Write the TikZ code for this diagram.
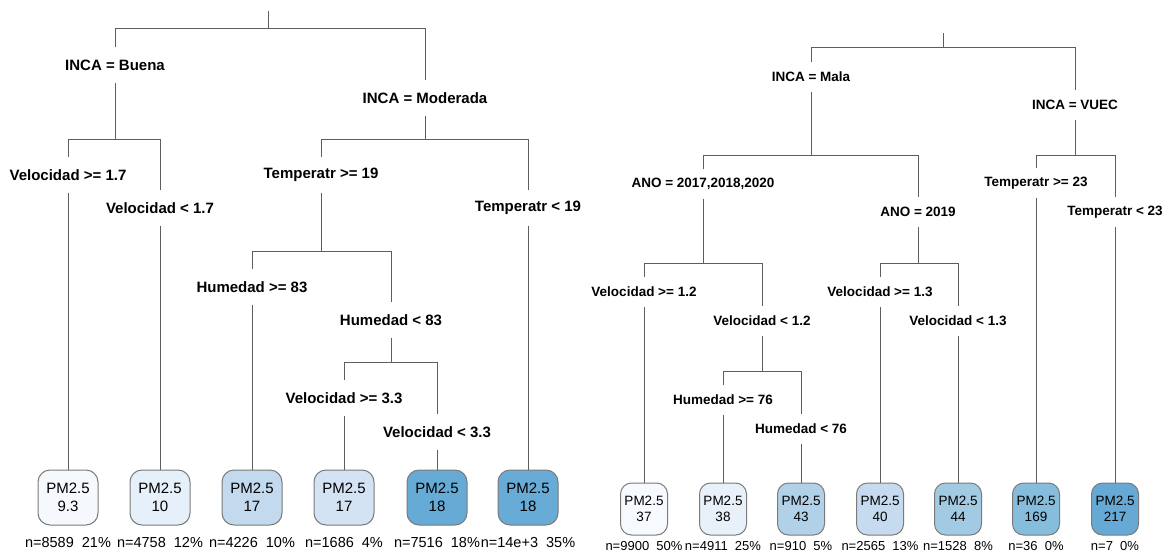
\documentclass[tikz,border=0pt]{standalone}
\usepackage{fontspec}
\setmainfont{Liberation Sans}
\definecolor{lc}{HTML}{5E5E5E}
\definecolor{bc}{HTML}{7A7A7A}
\definecolor{f1}{HTML}{F5F9FE}
\definecolor{f2}{HTML}{E6F0FA}
\definecolor{f3}{HTML}{C3D9EE}
\definecolor{f4}{HTML}{D3E3F3}
\definecolor{f5}{HTML}{66AAD6}
\definecolor{f6}{HTML}{68ABD6}
\definecolor{g1}{HTML}{F6FAFE}
\definecolor{g2}{HTML}{E8F1FA}
\definecolor{g3}{HTML}{B0D1E7}
\definecolor{g4}{HTML}{C6DBEF}
\definecolor{g5}{HTML}{A2CBE3}
\definecolor{g6}{HTML}{86BCDC}
\definecolor{g7}{HTML}{66A9D5}
\tikzset{
  edge/.style={draw=lc, line width=0.9pt},
  lsplit/.style={font=\bfseries\fontsize{15}{15}\selectfont, inner sep=0pt, minimum height=35pt},
  rsplit/.style={font=\bfseries\fontsize{13.5}{13.5}\selectfont, inner sep=0pt, minimum height=29pt},
  lleaf/.style={draw=bc, line width=1pt, rounded corners=12pt, minimum width=60pt, minimum height=55pt, align=center, inner sep=0pt, font=\fontsize{15}{17.5}\selectfont},
  rleaf/.style={draw=bc, line width=1pt, rounded corners=11pt, minimum width=47pt, minimum height=52pt, align=center, inner sep=0pt, font=\fontsize{13.5}{16}\selectfont},
  lcount/.style={inner sep=0pt, font=\fontsize{14.5}{14.5}\selectfont},
  rcount/.style={inner sep=0pt, font=\fontsize{13}{13}\selectfont}
}
\begin{document}
\begin{tikzpicture}[x=1pt,y=-1pt]
\useasboundingbox[fill=white] (0,0) rectangle (1173,552);
% ---------------- left tree ----------------
\coordinate (Lroot) at (268,11);
\coordinate (LJ0) at (268,28);
\coordinate (LJ1) at (115,139);
\coordinate (LJ1b) at (425,139);
\coordinate (LJ2) at (321,251);
\coordinate (LJ3) at (391,362);
\node[lsplit] (LB) at (115,65) {INCA = Buena};
\node[lsplit] (LM) at (425,98) {INCA = Moderada};
\node[lsplit] (Lv1) at (68,175) {Velocidad >= 1.7};
\node[lsplit] (Lv2) at (160,208) {Velocidad < 1.7};
\node[lsplit] (Lt1) at (321,175) {Temperatr >= 19};
\node[lsplit] (Lt2) at (528,208) {Temperatr < 19};
\node[lsplit] (Lh1) at (252,287) {Humedad >= 83};
\node[lsplit] (Lh2) at (391,320) {Humedad < 83};
\node[lsplit] (Lw1) at (344,398) {Velocidad >= 3.3};
\node[lsplit] (Lw2) at (437,432) {Velocidad < 3.3};
\node[lleaf, fill=f1] (L1) at (68,497.5) {PM2.5\\9.3};
\node[lleaf, fill=f2] (L2) at (160,497.5) {PM2.5\\10};
\node[lleaf, fill=f3] (L3) at (252,497.5) {PM2.5\\17};
\node[lleaf, fill=f4] (L4) at (344,497.5) {PM2.5\\17};
\node[lleaf, fill=f5] (L5) at (437,497.5) {PM2.5\\18};
\node[lleaf, fill=f6] (L6) at (528,497.5) {PM2.5\\18};
\node[lcount] (Ln1) at (68,543) {n=8589\ \ 21\%};
\node[lcount] (Ln2) at (160,543) {n=4758\ \ 12\%};
\node[lcount] (Ln3) at (252,543) {n=4226\ \ 10\%};
\node[lcount] (Ln4) at (344,543) {n=1686\ \ 4\%};
\node[lcount] (Ln5) at (437,543) {n=7516\ \ 18\%};
\node[lcount] (Ln6) at (528,543) {n=14e+3\ \ 35\%};
\draw[edge] (Lroot) -- (LJ0);
\draw[edge] (LB.north) -- (LB.north |- LJ0) -- (LM.north |- LJ0) -- (LM.north);
\draw[edge] (LB.south) -- (LJ1);
\draw[edge] (LM.south) -- (LJ1b);
\draw[edge] (Lv1.north) -- (Lv1.north |- LJ1) -- (Lv2.north |- LJ1) -- (Lv2.north);
\draw[edge] (Lt1.north) -- (Lt1.north |- LJ1b) -- (Lt2.north |- LJ1b) -- (Lt2.north);
\draw[edge] (Lv1.south) -- (L1.north);
\draw[edge] (Lv2.south) -- (L2.north);
\draw[edge] (Lt2.south) -- (L6.north);
\draw[edge] (Lt1.south) -- (LJ2);
\draw[edge] (Lh1.north) -- (Lh1.north |- LJ2) -- (Lh2.north |- LJ2) -- (Lh2.north);
\draw[edge] (Lh1.south) -- (L3.north);
\draw[edge] (Lh2.south) -- (LJ3);
\draw[edge] (Lw1.north) -- (Lw1.north |- LJ3) -- (Lw2.north |- LJ3) -- (Lw2.north);
\draw[edge] (Lw1.south) -- (L4.north);
\draw[edge] (Lw2.south) -- (L5.north);
% ---------------- right tree ----------------
\coordinate (Rroot) at (943,33);
\coordinate (RJ0) at (943,47);
\coordinate (RJ1) at (811,155);
\coordinate (RJ1b) at (1075,155);
\coordinate (RJ2) at (703,263);
\coordinate (RJ3) at (918,263);
\coordinate (RJ4) at (762,371);
\node[rsplit] (RM) at (811,77) {INCA = Mala};
\node[rsplit] (RV) at (1075,105) {INCA = VUEC};
\node[rsplit] (Ra1) at (703,184) {ANO = 2017,2018,2020};
\node[rsplit] (Ra2) at (918,212) {ANO = 2019};
\node[rsplit] (Rt1) at (1036,183) {Temperatr >= 23};
\node[rsplit] (Rt2) at (1115,212) {Temperatr < 23};
\node[rsplit] (Rv1) at (644,292) {Velocidad >= 1.2};
\node[rsplit] (Rv2) at (762,321) {Velocidad < 1.2};
\node[rsplit] (Rw1) at (880,292) {Velocidad >= 1.3};
\node[rsplit] (Rw2) at (958,321) {Velocidad < 1.3};
\node[rsplit] (Rh1) at (723,400) {Humedad >= 76};
\node[rsplit] (Rh2) at (801,429) {Humedad < 76};
\node[rleaf, fill=g1] (R1) at (644,509) {PM2.5\\37};
\node[rleaf, fill=g2] (R2) at (723,509) {PM2.5\\38};
\node[rleaf, fill=g3] (R3) at (801,509) {PM2.5\\43};
\node[rleaf, fill=g4] (R4) at (880,509) {PM2.5\\40};
\node[rleaf, fill=g5] (R5) at (958,509) {PM2.5\\44};
\node[rleaf, fill=g6] (R6) at (1036,509) {PM2.5\\169};
\node[rleaf, fill=g7] (R7) at (1115,509) {PM2.5\\217};
\node[rcount] (Rn1) at (644,546) {n=9900\ \ 50\%};
\node[rcount] (Rn2) at (723,546) {n=4911\ \ 25\%};
\node[rcount] (Rn3) at (801,546) {n=910\ \ 5\%};
\node[rcount] (Rn4) at (880,546) {n=2565\ \ 13\%};
\node[rcount] (Rn5) at (958,546) {n=1528\ \ 8\%};
\node[rcount] (Rn6) at (1036,546) {n=36\ \ 0\%};
\node[rcount] (Rn7) at (1115,546) {n=7\ \ 0\%};
\draw[edge] (Rroot) -- (RJ0);
\draw[edge] (RM.north) -- (RM.north |- RJ0) -- (RV.north |- RJ0) -- (RV.north);
\draw[edge] (RM.south) -- (RJ1);
\draw[edge] (RV.south) -- (RJ1b);
\draw[edge] (Ra1.north) -- (Ra1.north |- RJ1) -- (Ra2.north |- RJ1) -- (Ra2.north);
\draw[edge] (Rt1.north) -- (Rt1.north |- RJ1b) -- (Rt2.north |- RJ1b) -- (Rt2.north);
\draw[edge] (Rt1.south) -- (R6.north);
\draw[edge] (Rt2.south) -- (R7.north);
\draw[edge] (Ra1.south) -- (RJ2);
\draw[edge] (Ra2.south) -- (RJ3);
\draw[edge] (Rv1.north) -- (Rv1.north |- RJ2) -- (Rv2.north |- RJ2) -- (Rv2.north);
\draw[edge] (Rw1.north) -- (Rw1.north |- RJ3) -- (Rw2.north |- RJ3) -- (Rw2.north);
\draw[edge] (Rv1.south) -- (R1.north);
\draw[edge] (Rw1.south) -- (R4.north);
\draw[edge] (Rw2.south) -- (R5.north);
\draw[edge] (Rv2.south) -- (RJ4);
\draw[edge] (Rh1.north) -- (Rh1.north |- RJ4) -- (Rh2.north |- RJ4) -- (Rh2.north);
\draw[edge] (Rh1.south) -- (R2.north);
\draw[edge] (Rh2.south) -- (R3.north);
\end{tikzpicture}
\end{document}
